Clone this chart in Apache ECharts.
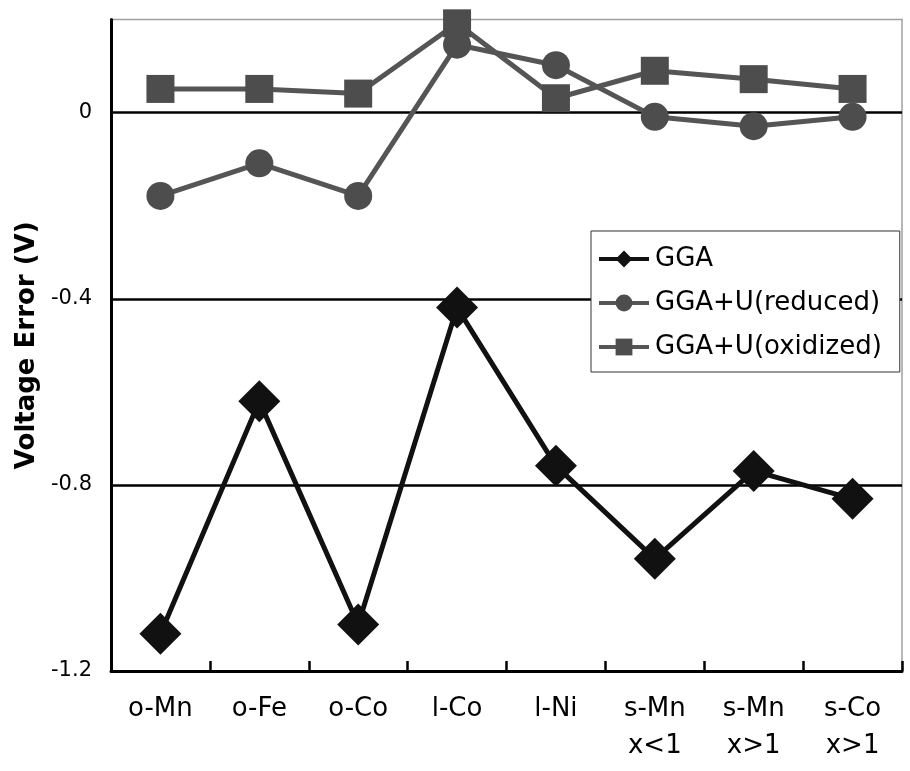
<!DOCTYPE html>
<html>
<head>
<meta charset="utf-8">
<script src="https://cdn.jsdelivr.net/npm/echarts@6/dist/echarts.min.js"></script>
<style>
html,body{margin:0;padding:0;background:#fff;}
#chart{width:910px;height:771px;}
</style>
</head>
<body>
<div id="chart"></div>
<script>
const categories = ['o-Mn', 'o-Fe', 'o-Co', 'l-Co', 'l-Ni', 's-Mn\nx<1', 's-Mn\nx>1', 's-Co\nx>1'];
const seriesNames = ['GGA', 'GGA+U(reduced)', 'GGA+U(oxidized)'];
const gga = [-1.12, -0.62, -1.10, -0.419, -0.759, -0.959, -0.770, -0.830];
const ggaUReduced = [-0.179, -0.109, -0.179, 0.146, 0.102, -0.009, -0.029, -0.009];
const ggaUOxidized = [0.051, 0.051, 0.041, 0.192, 0.031, 0.090, 0.072, 0.051];
const yTicks = { min: -1.2, max: 0.2, interval: 0.4 };

const FONT = '"DejaVu Sans", Verdana, sans-serif';
const chart = echarts.init(document.getElementById('chart'), null, { renderer: 'canvas' });

chart.setOption({
  animation: false,
  backgroundColor: '#fff',
  grid: {
    left: 111, right: 8, top: 19.6, bottom: 100,
    show: true, borderColor: '#a0a0a0', borderWidth: 1.5, backgroundColor: 'transparent'
  },
  legend: {
    orient: 'vertical',
    left: 591, top: 231,
    padding: [15, 18, 12, 6],
    itemWidth: 50, itemHeight: 21, itemGap: 18,
    backgroundColor: '#fff',
    borderColor: '#333', borderWidth: 1,
    lineStyle: { width: 4 },
    textStyle: { fontFamily: FONT, fontSize: 26, color: '#000', padding: [0, 0, 0, 1] },
    data: seriesNames
  },
  xAxis: {
    type: 'category',
    data: categories,
    boundaryGap: true,
    axisLine: { onZero: false, lineStyle: { color: '#000', width: 3 } },
    axisTick: { show: true, inside: true, length: 10, lineStyle: { color: '#000', width: 2.5 } },
    axisLabel: { fontFamily: FONT, fontSize: 26, color: '#000', margin: 20, lineHeight: 37, interval: 0 },
    splitLine: { show: false }
  },
  yAxis: {
    type: 'value',
    min: yTicks.min, max: yTicks.max, interval: yTicks.interval,
    name: 'Voltage Error (V)',
    nameLocation: 'middle',
    nameGap: 68,
    nameTextStyle: { fontFamily: FONT, fontSize: 26, fontWeight: 'bold', color: '#000' },
    axisLine: { show: true, onZero: false, lineStyle: { color: '#000', width: 3 } },
    axisTick: { show: false },
    axisLabel: {
      fontFamily: FONT, fontSize: 21, color: '#000', margin: 19, showMaxLabel: false,
      formatter: v => (Math.abs(v) < 1e-9 ? '0' : String(Math.round(v * 10) / 10))
    },
    splitLine: { show: true, showMinLine: false, showMaxLine: false, lineStyle: { color: '#000', width: 2.5 } }
  },
  series: [
    {
      name: seriesNames[0], type: 'line', data: gga,
      symbol: 'diamond', symbolSize: 42,
      itemStyle: { color: '#111' },
      lineStyle: { color: '#111', width: 5 }
    },
    {
      name: seriesNames[1], type: 'line', data: ggaUReduced,
      symbol: 'circle', symbolSize: 28,
      itemStyle: { color: '#4d4d4d' },
      lineStyle: { color: '#555', width: 5 }
    },
    {
      name: seriesNames[2], type: 'line', data: ggaUOxidized,
      symbol: 'rect', symbolSize: 28,
      itemStyle: { color: '#4d4d4d' },
      lineStyle: { color: '#555', width: 5 }
    }
  ]
});
</script>
</body>
</html>
